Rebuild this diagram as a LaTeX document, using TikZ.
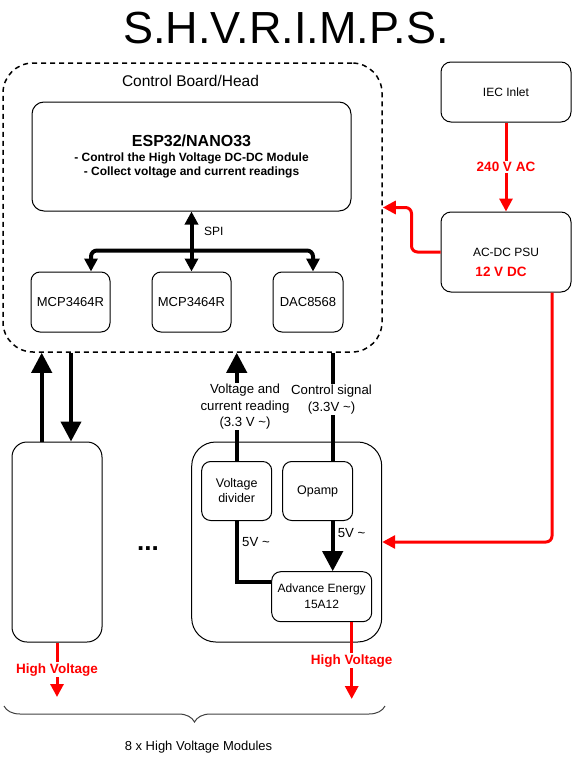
\documentclass[tikz,border=0pt]{standalone}
\usepackage{fontspec}
\setmainfont{Liberation Sans}
\usepackage{tikz}
\usetikzlibrary{positioning, arrows.meta, decorations.pathreplacing}
\tikzset{
    box_placa/.style={rectangle, rounded corners=30pt, draw=black, line width=1.5pt, dash pattern=on 5pt off 4pt, minimum width=379pt, minimum height=289pt, inner sep=0pt},
    box_chip/.style={rectangle, rounded corners=9pt, draw=black, line width=1pt, align=center, inner sep=0pt, minimum width=79pt, minimum height=60pt, font=\fontsize{13}{15}\selectfont},
    box_fuente/.style={rectangle, rounded corners=10pt, draw=black, line width=1pt, align=center, inner sep=0pt, minimum width=130pt, font=\fontsize{12}{14}\selectfont},
    box_modulo/.style={rectangle, rounded corners=15pt, draw=black, line width=1pt, minimum height=200pt, inner sep=0pt},
    box_interno/.style={rectangle, rounded corners=9pt, draw=black, line width=1pt, align=center, inner sep=0pt, minimum width=70pt, minimum height=59pt, font=\fontsize{12.5}{15}\selectfont},
    etiqueta/.style={align=center, inner sep=1pt, fill=white, font=\fontsize{13.2}{16.5}\selectfont},
    etiqueta_roja/.style={text=red, inner sep=1pt, fill=white, font=\bfseries\fontsize{13.5}{16}\selectfont},
    flecha_bus/.style={draw, line width=4pt, -{Triangle[length=13pt, width=13pt]}},
    flecha_gruesa/.style={draw, line width=4pt, -{Triangle[length=20pt, width=20pt]}},
    linea_gruesa/.style={draw, line width=4pt},
    flecha_roja/.style={draw=red, line width=3pt, -{Triangle[length=13pt, width=13pt]}},
    llave/.style={decorate, decoration={brace, mirror, amplitude=16pt}, draw=black!75, line width=1pt}
}

\begin{document}
\begin{tikzpicture}[x=1pt, y=-1pt, node distance=41pt]
    \useasboundingbox (0,0) rectangle (572,763);

    % 1. Titulo
    \node[font=\fontsize{45}{50}\selectfont] (titulo) at (286,28) {S.H.V.R.I.M.P.S.};

    % 2. Placa de control (contenedor punteado)
    \node[box_placa] (placa) at (192.5,207.5) {};
    \node[font=\fontsize{15.5}{18}\selectfont] (rotulo) at ([xshift=-2pt, yshift=-19pt]placa.north) {Control Board/Head};

    % 3. Microcontrolador
    \node[box_chip, minimum width=319pt, minimum height=109pt, rounded corners=12pt, font=\bfseries\fontsize{12}{14.7}\selectfont] (esp) at (191.5,156.5) {
        {\fontsize{16}{19}\selectfont ESP32/NANO33}\\
        - Control the High Voltage DC-DC Module\\
        - Collect voltage and current readings
    };

    % 4. Convertidores sobre el bus SPI
    \node[box_chip, below=60pt of esp] (mcp2) {MCP3464R};
    \node[box_chip, left=of mcp2] (mcp1) {MCP3464R};
    \node[box_chip, right=of mcp2, minimum width=70pt] (dac) {DAC8568};

    % 5. Alimentacion
    \node[box_fuente, minimum height=60pt] (iec) at (506,92) {IEC Inlet};
    \node[box_fuente, minimum height=80pt, below=89pt of iec] (psu) {AC-DC PSU};
    \node[etiqueta_roja, fill=none] (dc) at ([xshift=-5pt, yshift=-20pt]psu.center) {12 V DC};

    % 6. Modulos de alta tension
    \node[box_modulo, minimum width=90pt] (mod1) at (57,542) {};
    \node[box_modulo, minimum width=190pt, rounded corners=24pt] (mod2) at (286.7,542) {};
    \node[font=\bfseries\fontsize{26}{28}\selectfont] (puntos) at (148,549) {...};

    \node[box_interno] (vdiv) at (236.7,491) {Voltage\\divider};
    \node[box_interno, right=10pt of vdiv] (opamp) {Opamp};
    \node[box_interno, minimum width=100pt, minimum height=50pt, font=\fontsize{12}{16}\selectfont] (adv) at (321.7,596.7) {Advance Energy\\15A12};

    % --- CONEXIONES ---

    % Bus SPI
    \coordinate (bus) at ([yshift=-39pt]esp.south);
    \draw[flecha_bus] (bus) -- (esp.south);
    \draw[flecha_bus, rounded corners=6pt] (bus) -| ([xshift=20.5pt]mcp1.north);
    \draw[flecha_bus] (bus) -- (mcp2.north);
    \draw[flecha_bus, rounded corners=6pt] (bus) -| ([xshift=5pt]dac.north);
    \node[anchor=west, font=\fontsize{12}{14}\selectfont] (spi) at ([xshift=9pt, yshift=-20pt]esp.south) {SPI};

    % Alimentacion en rojo
    \draw[flecha_roja] (iec) -- node[etiqueta_roja] (ac) {240 V AC} (psu);
    \draw[flecha_roja, rounded corners=6pt] (psu.west) -- ([xshift=-29pt]psu.west) |- (placa.east);
    \draw[flecha_roja, rounded corners=6pt] ([xshift=46pt]psu.south) |- (mod2.east);

    % Modulo 1 <-> placa
    \draw[flecha_gruesa] ([xshift=-15.3pt]mod1.north) -- ([xshift=-15.3pt]mod1.north |- placa.south);
    \draw[flecha_gruesa] ([xshift=14pt]mod1.north |- placa.south) -- ([xshift=14pt]mod1.north);

    % Modulo N <-> placa
    \draw[flecha_gruesa] (vdiv.north) -- (vdiv.north |- placa.south);
    \draw[linea_gruesa] ([xshift=15pt]opamp.north |- placa.south) -- ([xshift=15pt]opamp.north);
    \node[etiqueta] (lectura) at (245,406.7) {Voltage and\\current reading\\(3.3 V \textasciitilde)};
    \node[etiqueta] (control) at (331.5,399.7) {Control signal\\(3.3V \textasciitilde)};

    % Dentro del modulo
    \draw[linea_gruesa] (vdiv.south) |- ([yshift=15pt]adv.west);
    \draw[flecha_gruesa] ([xshift=15pt]opamp.south) -- ([xshift=15pt]opamp.south |- adv.north);
    \node[etiqueta, fill=none, anchor=west] (v5a) at (241,541.7) {5V \textasciitilde};
    \node[etiqueta, fill=none, anchor=west] (v5b) at (336.7,532.7) {5V \textasciitilde};

    % Salidas de alta tension
    \coordinate (hv1) at (57,697);
    \coordinate (hv2) at (351.7,699);
    \draw[flecha_roja] (mod1.south) -- node[etiqueta_roja] (hvtexto1) {High Voltage} (hv1);
    \draw[flecha_roja] ([xshift=30pt]adv.south) -- node[etiqueta_roja] (hvtexto2) {High Voltage} (hv2);

    % Llave inferior
    \coordinate (llave_izq) at (4,706);
    \coordinate (llave_der) at (385,706);
    \draw[llave] (llave_izq) -- (llave_der);
    \node[font=\fontsize{13}{15}\selectfont] (total) at (198.5,747) {8 x High Voltage Modules};

\end{tikzpicture}
\end{document}
